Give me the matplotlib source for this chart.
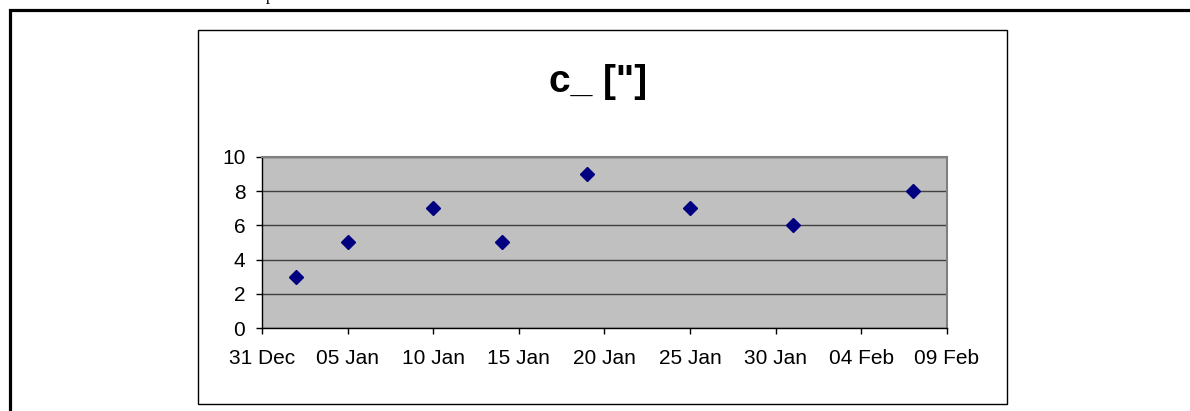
import matplotlib
matplotlib.use("Agg")
import matplotlib.pyplot as plt
import matplotlib.dates as mdates
from matplotlib.patches import Rectangle
import datetime as dt

# ---- data ----
dates = ["2007-01-02", "2007-01-05", "2007-01-10", "2007-01-14",
         "2007-01-19", "2007-01-25", "2007-01-31", "2007-02-07"]
values = [3, 5, 7, 5, 9, 7, 6, 8]
title = 'c_ ["]'
y_ticks = [0, 2, 4, 6, 8, 10]
x_start = "2006-12-31"
x_end = "2007-02-09"

W, H = 1190, 411
fig = plt.figure(figsize=(W / 100, H / 100), dpi=100)
plt.rcParams['font.family'] = ['Liberation Sans', 'DejaVu Sans']

def fx(px):
    return px / W

def fy(py):
    return 1 - py / H

# outer thick border (extends beyond right/bottom)
fig.patches.append(Rectangle((fx(9.5), fy(440)), fx(1300), fy(10.5) - fy(440),
                             transform=fig.transFigure, fill=False,
                             edgecolor='black', linewidth=2.3, zorder=0))
# inner chart border
fig.patches.append(Rectangle((fx(197.5), fy(403.5)), fx(1007) - fx(197.5), fy(30.5) - fy(403.5),
                             transform=fig.transFigure, fill=False,
                             edgecolor='black', linewidth=1.0, zorder=0))

# partially cut text at top (only its lowest part is visible in the reference)
fig.text(fx(228), fy(0.5), "Example", family=['Liberation Serif', 'DejaVu Serif'],
         fontsize=12, va='baseline', ha='left', color='black')

# title
fig.text(fx(598.5), fy(92), title, fontsize=28, fontweight='bold',
         ha='center', va='baseline')

ax = fig.add_axes([fx(262), fy(328), fx(947) - fx(262), fy(157) - fy(328)])
ax.set_facecolor('#C0C0C0')

xd = [dt.datetime.strptime(d, "%Y-%m-%d") for d in dates]
ax.plot(xd, values, linestyle='none', marker='D', markersize=7,
        color='#000080', markeredgecolor='#000080', zorder=3, clip_on=False)

start = dt.datetime.strptime(x_start, "%Y-%m-%d")
ax.set_xlim(start, dt.datetime.strptime(x_end, "%Y-%m-%d"))
ax.set_ylim(0, 10)
ax.set_yticks(y_ticks)
ticks = [start + dt.timedelta(days=5 * i) for i in range(9)]
ax.set_xticks(ticks)
ax.xaxis.set_major_formatter(mdates.DateFormatter('%d %b'))

ax.grid(axis='y', color='#404040', linewidth=1.0)
ax.set_axisbelow(True)

for s in ['top', 'right']:
    ax.spines[s].set_color('#808080')
    ax.spines[s].set_linewidth(1.5)
for s in ['left', 'bottom']:
    ax.spines[s].set_color('#000000')
    ax.spines[s].set_linewidth(1.0)

ax.tick_params(axis='both', direction='out', length=4, width=1, color='black',
               labelsize=15, labelcolor='black')
ax.tick_params(axis='x', pad=11)
ax.tick_params(axis='y', pad=8)

fig.savefig("out.png", dpi=100)
